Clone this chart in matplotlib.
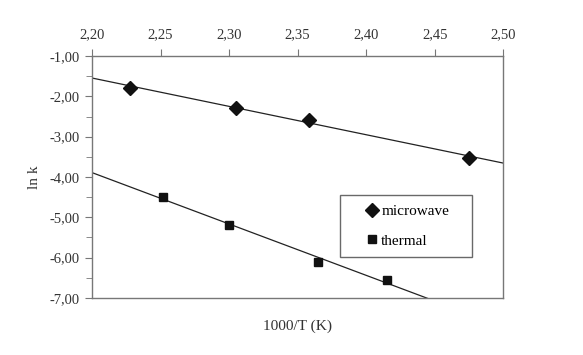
import matplotlib
matplotlib.use("Agg")
import matplotlib.pyplot as plt
import numpy as np
from matplotlib.ticker import FuncFormatter, MultipleLocator

# data
mw_x = [2.228, 2.305, 2.358, 2.475]
mw_y = [-1.78, -2.28, -2.58, -3.52]
th_x = [2.252, 2.300, 2.365, 2.415]
th_y = [-4.50, -5.20, -6.10, -6.55]

plt.rcParams['font.family'] = ['Liberation Serif', 'DejaVu Serif']

fig = plt.figure(figsize=(5.83, 3.55), dpi=100)
ax = fig.add_axes([0.158, 0.161, 0.705, 0.681])

# trend lines (least-squares fit of each series)
xl = np.array([2.20, 2.50])
for xs, ys in [(mw_x, mw_y), (th_x, th_y)]:
    k, b = np.polyfit(xs, ys, 1)
    ax.plot(xl, k * xl + b, color="#222222", lw=0.9, zorder=2)

ax.plot(mw_x, mw_y, linestyle="none", marker="D", markersize=7,
        color="#111111", label="microwave", zorder=3)
ax.plot(th_x, th_y, linestyle="none", marker="s", markersize=5.5,
        color="#111111", label="thermal", zorder=3)

ax.set_xlim(2.20, 2.50)
ax.set_ylim(-7.0, -1.0)

ax.xaxis.tick_top()
ax.xaxis.set_major_locator(MultipleLocator(0.05))
ax.yaxis.set_major_locator(MultipleLocator(1.0))
ax.yaxis.set_minor_locator(MultipleLocator(0.5))
comma = FuncFormatter(lambda v, p: f"{v:.2f}".replace(".", ","))
ax.xaxis.set_major_formatter(comma)
ax.yaxis.set_major_formatter(comma)

for s in ax.spines.values():
    s.set_color("#777777")
    s.set_linewidth(1.0)
ax.tick_params(axis="both", which="major", direction="out", length=5,
               color="#777777", labelsize=10.5, labelcolor="#333333", pad=4)
ax.tick_params(axis="y", which="minor", direction="out", length=4,
               color="#777777")
ax.tick_params(axis="x", pad=6)

ax.set_ylabel("ln k", fontsize=11, color="#333333", labelpad=6)
fig.text(0.51, 0.08, "1000/T (K)", ha="center", va="center",
         fontsize=11, color="#333333")

leg = ax.legend(loc="lower left", bbox_to_anchor=(0.603, 0.169, 0.322, 0.257),
                mode="expand", fontsize=11, frameon=True, fancybox=False,
                borderpad=0.6, labelspacing=1.05, handlelength=3.0,
                handletextpad=-0.9, borderaxespad=0)
leg.get_frame().set_edgecolor("#444444")
leg.get_frame().set_linewidth(1.0)

fig.savefig("out.png", dpi=100)
